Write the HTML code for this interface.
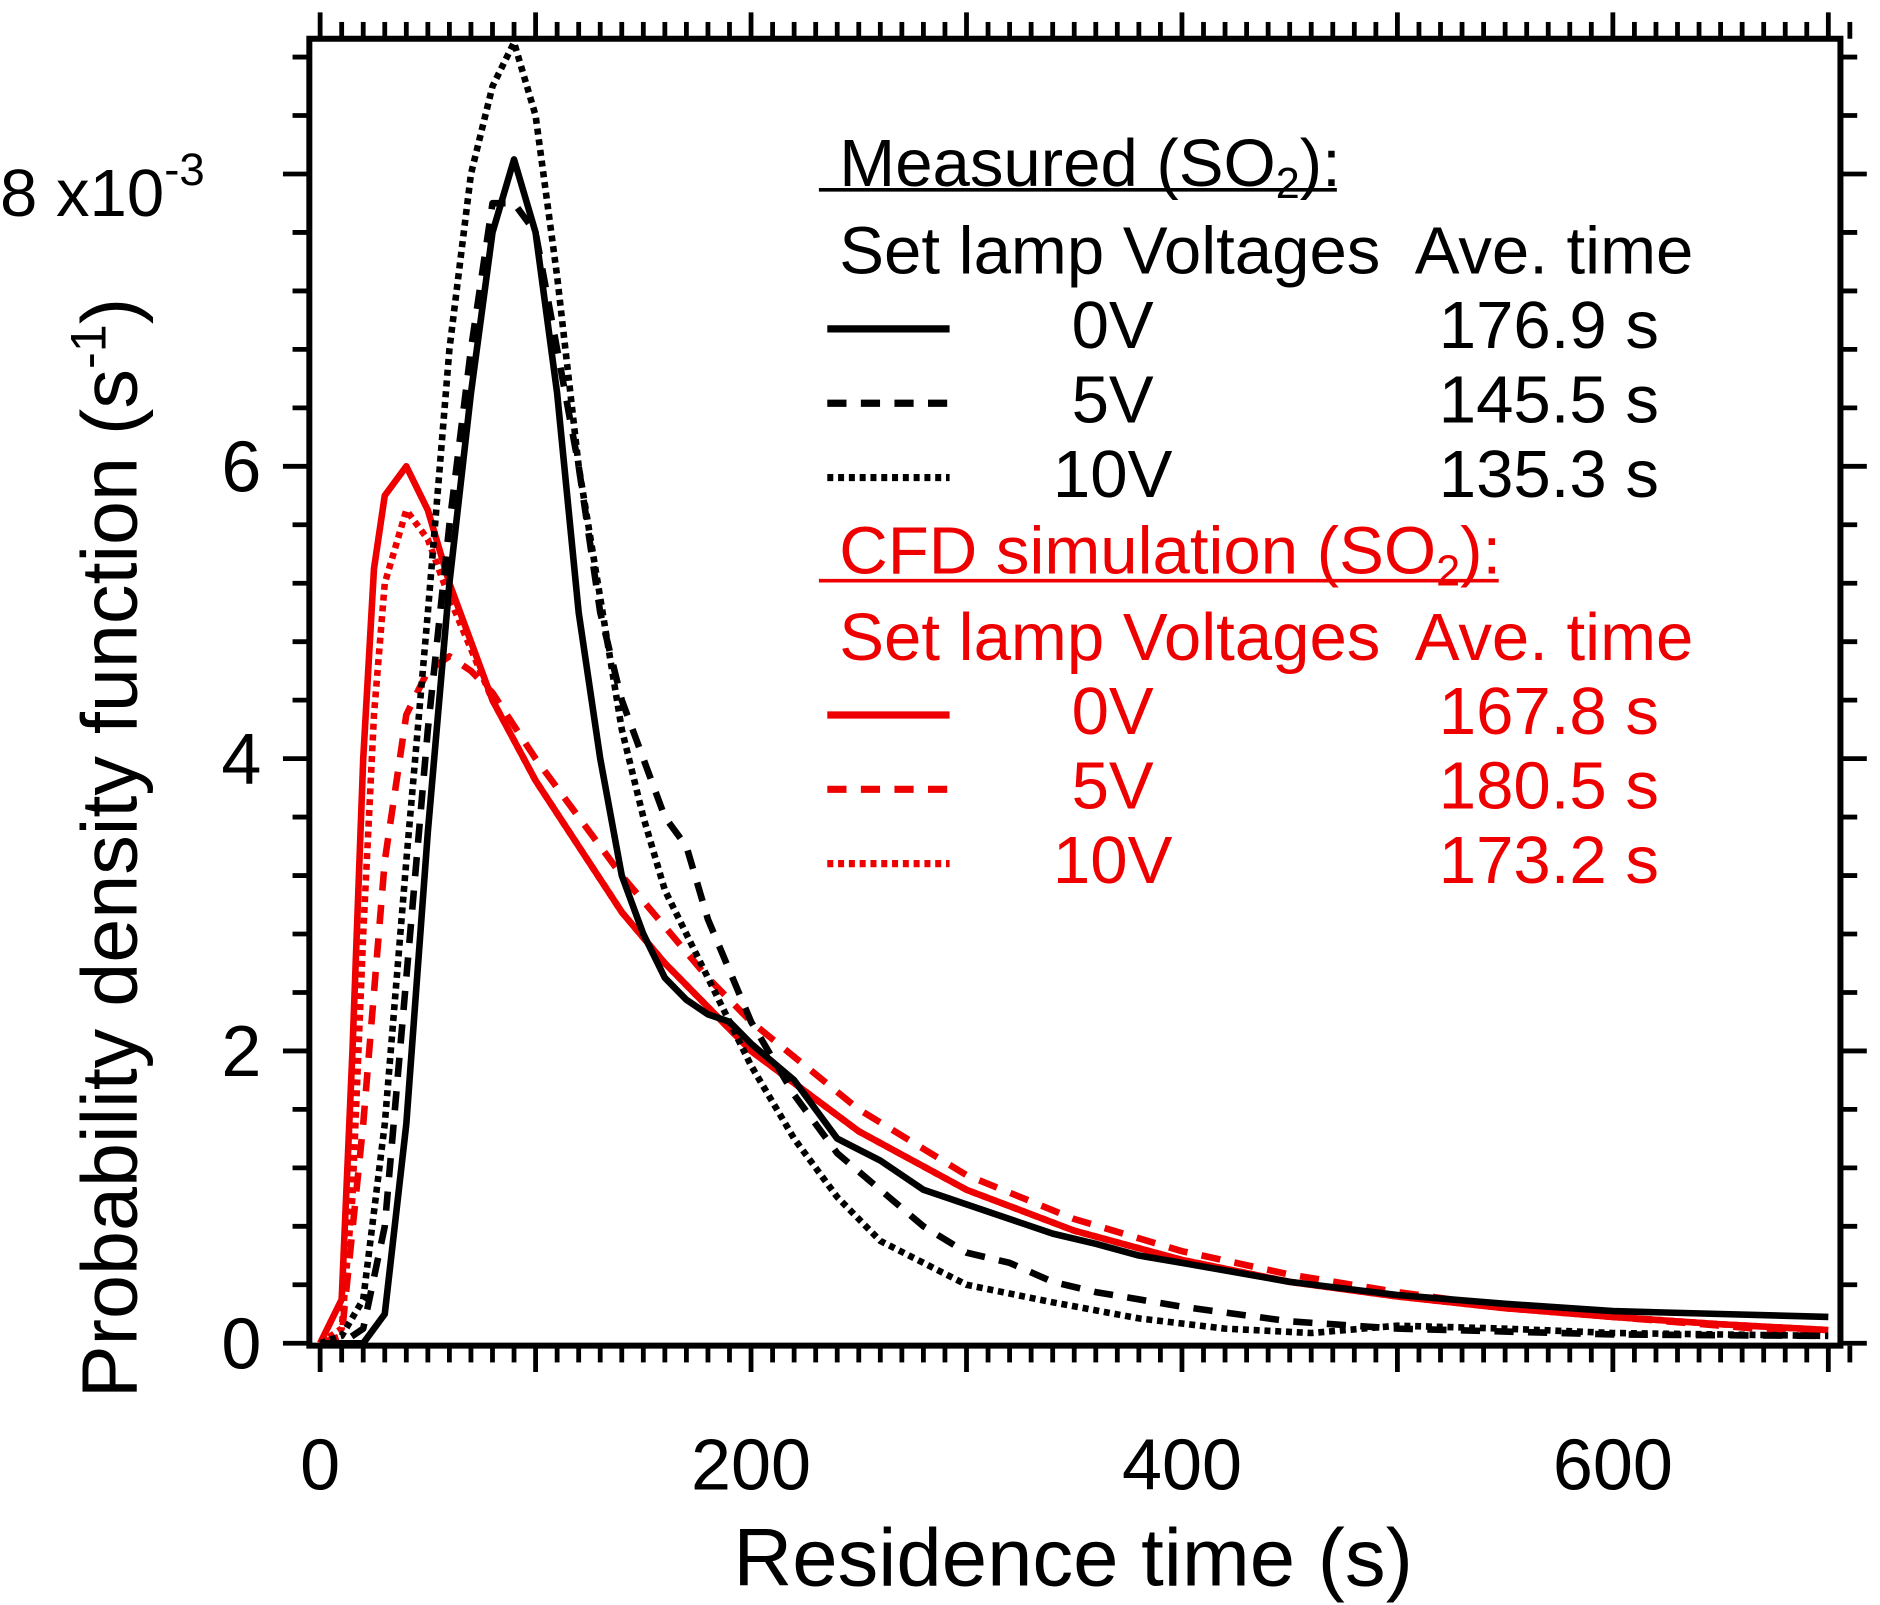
<!DOCTYPE html>
<html><head><meta charset="utf-8"><style>
html,body{margin:0;padding:0;background:#fff}
svg{display:block}
text{font-family:"Liberation Sans",Arial,sans-serif}
</style></head><body>
<svg id="chart" width="1880" height="1605" viewBox="0 0 1568 1338" xmlns="http://www.w3.org/2000/svg">
<g id="axes"></g>
<g id="series"></g>
<g><text transform="translate(114,707) rotate(-90)" text-anchor="middle" font-size="66">Probability density function (s<tspan dy="-26" font-size="42">-1</tspan><tspan dy="26">)</tspan></text></g>
<text x="0" y="180" font-size="56">8 x10<tspan dy="-26" font-size="38">-3</tspan></text>
<text x="895" y="1322" text-anchor="middle" font-size="68">Residence time (s)</text>
<g font-size="56">
<text x="700" y="155">Measured (SO<tspan dy="10" font-size="36">2</tspan><tspan dy="-10">):</tspan></text>
<line x1="683" y1="158" x2="1115" y2="158" stroke="#000" stroke-width="3"/>
<text x="700" y="228">Set lamp Voltages</text><text x="1180" y="228">Ave. time</text>
<line x1="690" y1="274" x2="792" y2="274" stroke="#000" stroke-width="6"/>
<text x="928" y="290" text-anchor="middle">0V</text><text x="1200" y="290">176.9 s</text>
<line x1="690" y1="336" x2="792" y2="336" stroke="#000" stroke-width="6" stroke-dasharray="16,12"/>
<text x="928" y="352" text-anchor="middle">5V</text><text x="1200" y="352">145.5 s</text>
<line x1="690" y1="398" x2="792" y2="398" stroke="#000" stroke-width="6" stroke-dasharray="5,4"/>
<text x="928" y="414" text-anchor="middle">10V</text><text x="1200" y="414">135.3 s</text>
<g fill="#e00">
<text x="700" y="478">CFD simulation (SO<tspan dy="10" font-size="36">2</tspan><tspan dy="-10">):</tspan></text>
<line x1="683" y1="484" x2="1250" y2="484" stroke="#e00" stroke-width="3"/>
<text x="700" y="550">Set lamp Voltages</text><text x="1180" y="550">Ave. time</text>
<line x1="690" y1="596" x2="792" y2="596" stroke="#e00" stroke-width="6"/>
<text x="928" y="612" text-anchor="middle">0V</text><text x="1200" y="612">167.8 s</text>
<line x1="690" y1="658" x2="792" y2="658" stroke="#e00" stroke-width="6" stroke-dasharray="16,12"/>
<text x="928" y="674" text-anchor="middle">5V</text><text x="1200" y="674">180.5 s</text>
<line x1="690" y1="720" x2="792" y2="720" stroke="#e00" stroke-width="6" stroke-dasharray="5,4"/>
<text x="928" y="736" text-anchor="middle">10V</text><text x="1200" y="736">173.2 s</text>
</g></g>
</svg>
<script>
const xTicks=[0,200,400,600];
const yTicks=[0,2,4,6];
const m0x=[0,10,20,30,40,50,60,70,80,90,100,110,120,130,140,150,160,170,180,190,200,220,240,260,280,300,320,340,360,380,400,450,500,550,600,650,700];
const m0y=[0,0,0,0.2,1.5,3.5,5.2,6.5,7.6,8.1,7.6,6.5,5,4,3.2,2.8,2.5,2.35,2.25,2.2,2.05,1.8,1.4,1.25,1.05,0.95,0.85,0.75,0.68,0.6,0.55,0.42,0.33,0.27,0.22,0.2,0.18];
const m5x=[0,10,20,30,40,50,60,70,80,90,100,110,120,130,140,150,160,170,180,200,220,240,260,280,300,320,340,360,400,450,500,550,600,700];
const m5y=[0,0,0.1,0.8,2.5,4.2,5.6,6.8,7.8,7.8,7.6,6.8,6,5,4.4,4,3.6,3.4,2.9,2.2,1.7,1.3,1.05,0.8,0.62,0.55,0.42,0.35,0.25,0.15,0.1,0.08,0.06,0.05];
const m10x=[0,10,20,30,40,50,60,70,80,90,100,110,120,130,140,150,160,170,180,200,220,240,260,280,300,340,380,420,460,500,550,600,700];
const m10y=[0,0.05,0.3,1.5,3.3,5.0,6.8,8.0,8.6,8.9,8.4,7.3,6.0,5.1,4.2,3.6,3.1,2.8,2.5,1.9,1.4,1.0,0.7,0.55,0.4,0.28,0.17,0.1,0.07,0.12,0.1,0.07,0.05];
const c0x=[0,10,15,20,25,30,40,50,60,80,100,120,140,160,180,200,250,300,350,400,450,500,550,600,650,700];
const c0y=[0,0.3,2,4,5.3,5.8,6.0,5.7,5.2,4.4,3.85,3.4,2.95,2.6,2.3,2.0,1.45,1.05,0.77,0.57,0.42,0.32,0.24,0.18,0.13,0.09];
const c5x=[0,10,20,30,40,50,60,70,80,100,120,140,160,180,200,250,300,350,400,450,500,550,600,650,700];
const c5y=[0,0.05,1.5,3.3,4.3,4.6,4.7,4.6,4.45,4.0,3.6,3.2,2.85,2.5,2.2,1.6,1.15,0.85,0.63,0.47,0.35,0.25,0.18,0.12,0.06];
const c10x=[0,10,15,20,25,30,40,50,60,80,100,120,140,160,180,200,250,300,350,400,450,500,550,600,650,700];
const c10y=[0,0.1,1,2.8,4.3,5.2,5.7,5.5,5.1,4.4,3.85,3.4,2.95,2.6,2.3,2.0,1.45,1.05,0.77,0.57,0.42,0.32,0.24,0.18,0.13,0.09];

const NS="http://www.w3.org/2000/svg";
const X=v=>267+v*1.797;
const Y=v=>1120-v*121.9;
const L=258,R=1535,T=32,B=1122;
const ax=document.getElementById('axes');
function mk(tag,attrs,parent){const e=document.createElementNS(NS,tag);for(const k in attrs)e.setAttribute(k,attrs[k]);parent.appendChild(e);return e;}
const clip=mk('clipPath',{id:'pc'},ax);mk('rect',{x:L,y:T,width:R-L,height:B-T},clip);
const frame=mk('rect',{x:L,y:T,width:R-L,height:B-T,fill:'none',stroke:'#000','stroke-width':5},ax);


for(let v=0;v<=710;v+=10){const major=v%100===0;const len=major?22:14;
 mk('line',{x1:X(v),x2:X(v),y1:B,y2:B+len,stroke:'#000','stroke-width':4},ax);
 mk('line',{x1:X(v),x2:X(v),y1:T,y2:T-len,stroke:'#000','stroke-width':4},ax);}
for(let v=0;v<=8.81;v+=0.4){const major=Math.abs(v/2-Math.round(v/2))<0.01;const len=major?22:14;
 mk('line',{x1:L,x2:L-len,y1:Y(v),y2:Y(v),stroke:'#000','stroke-width':4},ax);
 mk('line',{x1:R,x2:R+len,y1:Y(v),y2:Y(v),stroke:'#000','stroke-width':4},ax);}
xTicks.forEach(v=>{const t=mk('text',{x:X(v),y:1242,'text-anchor':'middle','font-size':60},ax);t.textContent=v;
 
 });
yTicks.forEach(v=>{const t=mk('text',{x:218,y:Y(v)+21,'text-anchor':'end','font-size':60},ax);t.textContent=v;
 
 });
const sg=document.getElementById('series');
sg.setAttribute('clip-path','url(#pc)');
function line(xs,ys,color,dash,name){const p=mk('polyline',{points:xs.map((x,i)=>X(x)+','+Y(ys[i])).join(' '),fill:'none',stroke:color,'stroke-width':5.5,'stroke-linejoin':'round','stroke-dasharray':dash},sg);
 
 }
line(c5x,c5y,'#e00','16,12','cfd-5v-line');
line(c10x,c10y,'#e00','5,4','cfd-10v-line');
line(c0x,c0y,'#e00','none','cfd-0v-line');
line(m10x,m10y,'#000','5,4','measured-10v-line');
line(m5x,m5y,'#000','16,12','measured-5v-line');
line(m0x,m0y,'#000','none','measured-0v-line');
</script>
</body></html>
